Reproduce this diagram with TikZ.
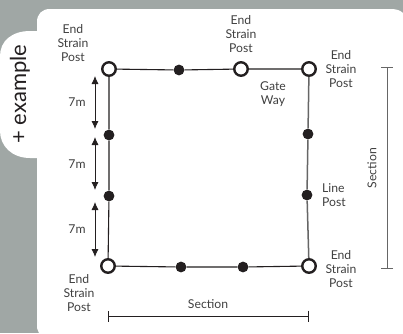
\documentclass[tikz,border=0pt]{standalone}
\usepackage{fontspec}
\setmainfont{Lato}
\usetikzlibrary{arrows.meta}
\definecolor{panelgrey}{RGB}{160,167,165}
\definecolor{inkgrey}{RGB}{64,64,64}
\definecolor{postblack}{RGB}{35,31,32}
\tikzset{
    x=1pt,y=-1pt,
    endpost/.style={circle,draw=postblack,fill=white,line width=2.4pt,inner sep=0pt,minimum size=13.5pt},
    linepost/.style={circle,fill=postblack,inner sep=0pt,minimum size=10.8pt},
    wire/.style={draw=postblack,line width=1.1pt},
    greywire/.style={draw=black!60,line width=1.5pt},
    sevenm/.style={draw=postblack,line width=0.8pt,{Latex[length=8pt,width=7pt]}-{Latex[length=8pt,width=7pt]}},
    sectionbar/.style={draw=postblack,line width=0.7pt},
    postlabel/.style={text=inkgrey,font=\fontsize{12.2}{14.3}\selectfont,align=center,inner sep=0pt}
}
\begin{document}
\begin{tikzpicture}
    \fill[panelgrey] (0,0) rectangle (403,333);
    \useasboundingbox (0,0) rectangle (403,333);
    % panel and tab
    \fill[white] (403,333) -- (39,333) -- (37,328) -- (37,158) -- (30,158)
        .. controls (12,158) and (0,146) .. (0,131) -- (0,56)
        .. controls (0,41) and (12,31) .. (30,31) -- (37,31) -- (37,22)
        .. controls (37,14) and (42,9) .. (50,9) -- (390,9)
        .. controls (396,9) and (400,10) .. (403,13) -- cycle;
    \node[text=postblack,font=\fontsize{22}{22}\selectfont,rotate=90,inner sep=0pt] (tab) at (20,94) {+ example};

    % posts
    \node[endpost] (topleft) at (109,69) {};
    \node[endpost] (gate) at (241,69) {};
    \node[endpost] (topright) at (309,69) {};
    \node[endpost] (botleft) at (108,266) {};
    \node[endpost] (botright) at (309,266) {};
    \node[linepost] (top1) at (179,70) {};
    \node[linepost] (left1) at (109,135) {};
    \node[linepost] (left2) at (109,196) {};
    \node[linepost] (bot1) at (181,267) {};
    \node[linepost] (bot2) at (243,267) {};
    \node[linepost] (right1) at (308,134) {};
    \node[linepost] (right2) at (307,195) {};

    % fence
    \draw[wire] (topleft) -- (top1) -- (gate) -- (topright);
    \draw[wire] (botleft) -- (bot1) -- (bot2) -- (botright);
    \draw[wire] (topleft) -- (left1) -- (left2) -- (botleft);
    \draw[greywire] (topright) -- (right1) -- (right2) -- (botright);

    % 7m spacing
    \coordinate (a1) at (95,76);
    \coordinate (a2) at (95,129);
    \coordinate (b1) at (95,137);
    \coordinate (b2) at (95,190);
    \coordinate (c1) at (95,202);
    \coordinate (c2) at (95,257);
    \draw[sevenm] (a1) -- (a2);
    \draw[sevenm] (b1) -- (b2);
    \draw[sevenm] (c1) -- (c2);
    \node[postlabel] (seven1) at (77,102) {7m};
    \node[postlabel] (seven2) at (77,164) {7m};
    \node[postlabel] (seven3) at (77,229) {7m};

    % section bars
    \coordinate (s1) at (107.5,316);
    \coordinate (s2) at (309,316);
    \coordinate (r1) at (387,67);
    \coordinate (r2) at (387,269);
    \draw[sectionbar,{Bar[width=11pt]}-{Bar[width=11pt]}] (s1) -- (s2);
    \draw[greywire,line width=1pt,{Bar[width=12pt]}-{Bar[width=12pt]}] (r1) -- (r2);
    \node[postlabel] (sectionb) at (208,304) {Section};
    \node[postlabel,rotate=90] (sectionr) at (372,168) {Section};

    % labels
    \node[postlabel] (ltopleft) at (73,43) {End\\Strain\\Post};
    \node[postlabel] (lgate) at (241,34) {End\\Strain\\Post};
    \node[postlabel] (ltopright) at (341,69) {End\\Strain\\Post};
    \node[postlabel] (lbotleft) at (79,293) {End\\Strain\\Post};
    \node[postlabel] (lbotright) at (341,269) {End\\Strain\\Post};
    \node[postlabel] (lway) at (273,94) {Gate\\Way};
    \node[postlabel,align=left,anchor=west] (lline) at (322,195) {Line\\Post};
\end{tikzpicture}
\end{document}
